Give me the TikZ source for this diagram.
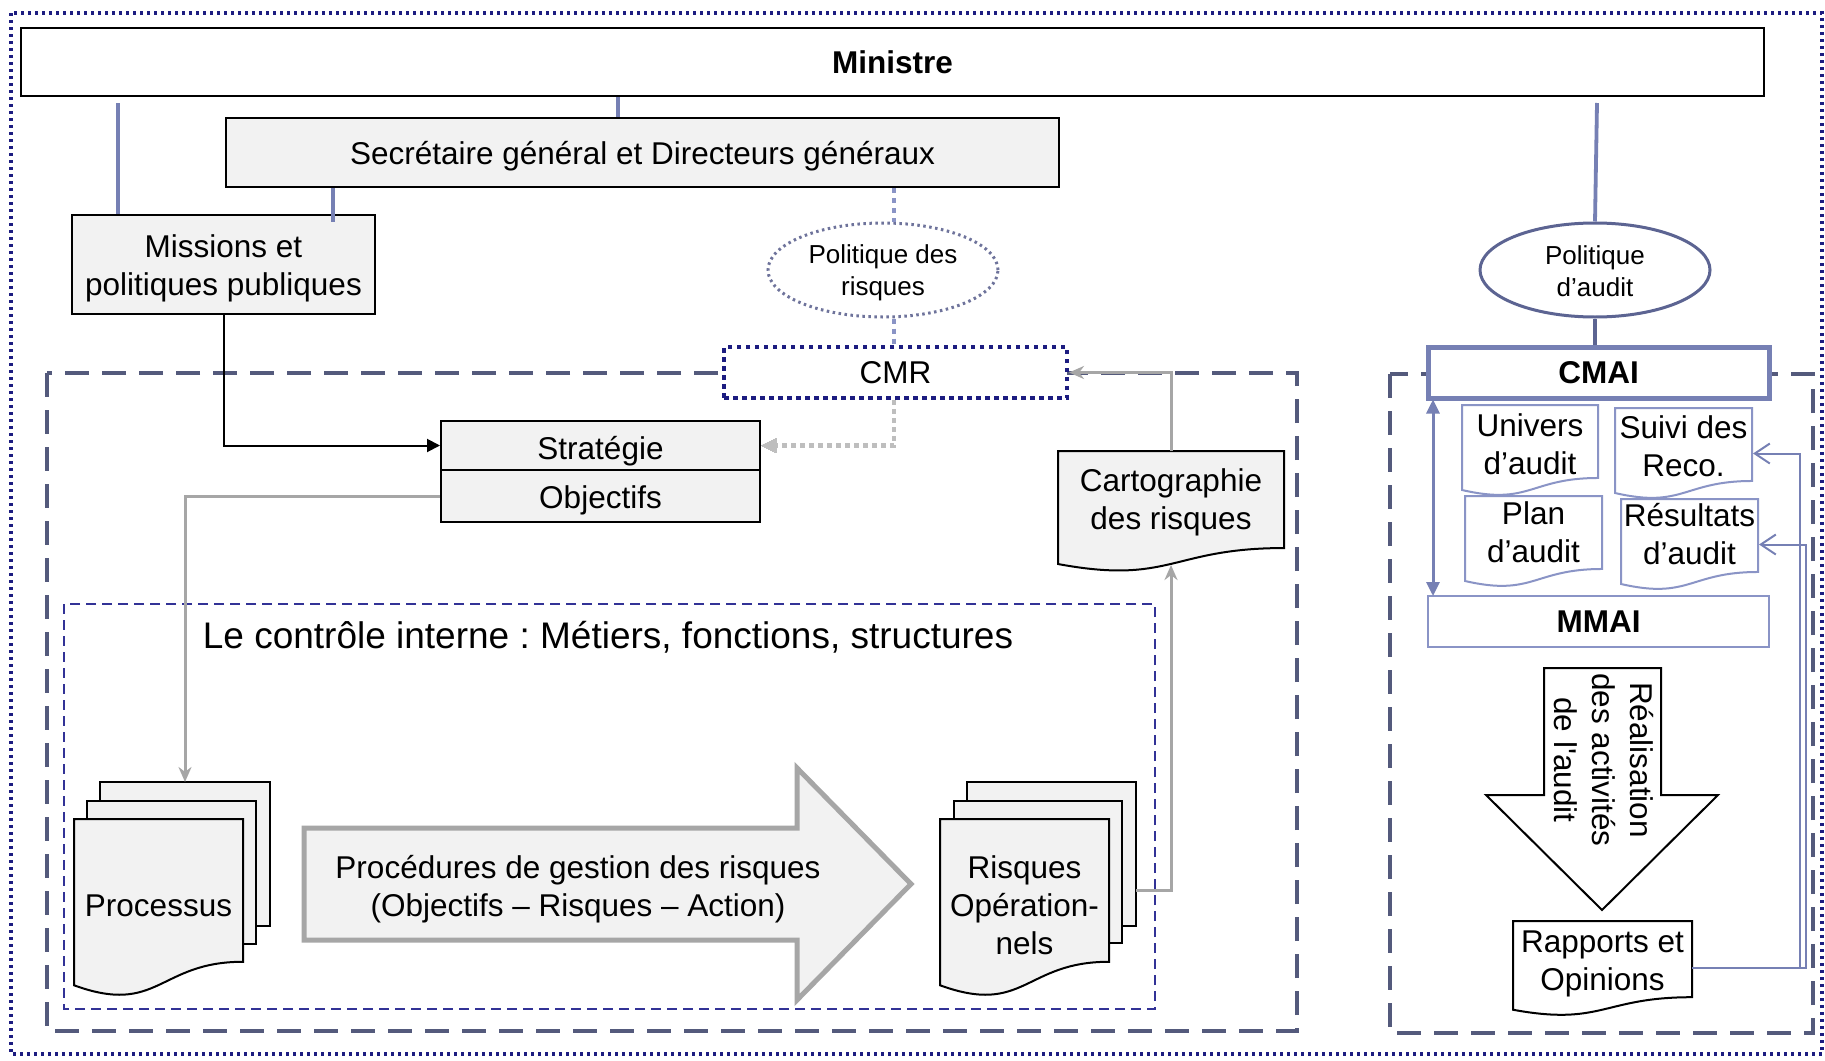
\documentclass[tikz,border=0pt]{standalone}
\usepackage{fontspec}
\setmainfont{Liberation Sans}
\usetikzlibrary{arrows.meta,shapes.geometric,calc}
\definecolor{slate}{RGB}{118,128,180}
\definecolor{dashslate}{RGB}{84,90,124}
\definecolor{navy}{RGB}{28,28,128}
\definecolor{innernavy}{RGB}{50,50,150}
\definecolor{boxgray}{RGB}{242,242,242}
\definecolor{arrgray}{RGB}{166,166,166}
\definecolor{lightdot}{RGB}{190,190,190}
\definecolor{paleslate}{RGB}{138,148,198}
\definecolor{ellslate}{RGB}{92,100,146}
\definecolor{dotslate}{RGB}{110,115,155}
\newcommand{\docshape}[5]{%
  \draw[#1] (#2,#3) -- ({#2+#4},#3) -- ({#2+#4},{#3+0.802*#5})
    .. controls ({#2+0.5*#4},{#3+0.802*#5}) and ({#2+0.5*#4},{#3+1.1075*#5}) .. (#2,{#3+0.934*#5}) -- cycle;}
\frenchspacing
\begin{document}
\begin{tikzpicture}[x=1pt,y=-1pt,
  txt/.style={font=\fontsize{31.5}{38}\selectfont, align=center, inner sep=0pt},
  btxt/.style={font=\fontsize{31.5}{38}\selectfont\bfseries, align=center, inner sep=0pt},
  stxt/.style={font=\fontsize{26}{31.5}\selectfont, align=center, inner sep=0pt},
  boxg/.style={draw=black, line width=2pt, fill=boxgray, inner sep=0pt},
  frame/.style={inner sep=0pt, outer sep=0pt, draw=none, anchor=north west},
  pagestyle/.style={draw=black, line width=2pt, fill=boxgray, line join=miter},
  slatedoc/.style={draw=paleslate, line width=2pt, fill=white},
  mline/.style={draw=slate, line width=3.8pt},
  bigdash/.style={draw=dashslate, line width=4.5pt, dash pattern=on 24pt off 13pt},
  grayarr/.style={draw=arrgray, line width=3pt, -{Stealth[length=15pt,width=13pt]}},
  retline/.style={draw=slate, line width=2pt, -{Straight Barb[length=15pt,width=20pt,line width=2pt]}}
]
\useasboundingbox (0,0) rectangle (1825,1060);
\fill[white] (0,0) rectangle (1825,1060);

% frames
\draw[navy, line width=3.5pt, dash pattern=on 3pt off 4pt] (11,13) rectangle (1822,1054);
\draw[bigdash] (47,373) rectangle (1297,1031);
\draw[bigdash] (1390,374) rectangle (1813,1033);
\draw[innernavy, line width=2pt, dash pattern=on 10pt off 6pt] (64,604) rectangle (1155,1009);

% helper x positions
\coordinate (xa) at (618,0);
\coordinate (xb) at (333,0);
\coordinate (xc) at (894,0);
\coordinate (xd) at (1433,0);
\coordinate (xe) at (1800,0);
\coordinate (xf) at (1806,0);
\coordinate (m1) at (118,103);
\coordinate (m2) at (1597,103);

% top boxes
\node[draw=black, line width=2pt, fill=white, minimum width=1743pt, minimum height=68pt, btxt] (min) at (892.5,62) {Ministre};
\node[boxg, minimum width=833pt, minimum height=69pt] (sec) at (642.5,152.5) {};
\node[txt] (sectxt) at (642.5,156) {Secrétaire général et Directeurs généraux};
\node[boxg, minimum width=303pt, minimum height=99pt] (miss) at (223.5,264.5) {};
\node[txt] (misstxt) at (223.5,268) {Missions et\\politiques publiques};

% ellipses
\node[ellipse, draw=dotslate, line width=3pt, dash pattern=on 2.5pt off 3.5pt, fill=white, minimum width=230pt, minimum height=94pt, inner sep=0pt] (polr) at (883,270) {};
\node[stxt] (polrtxt) at (883,273) {Politique des\\risques};
\node[ellipse, draw=ellslate, line width=3pt, fill=white, minimum width=230pt, minimum height=94pt, inner sep=0pt] (pola) at (1595,270) {};
\node[stxt] (polatxt) at (1595,271) {Politique\\d’audit};

% ministre connectors
\draw[mline] (m1) -- (m1 |- miss.north);
\draw[mline] (xa |- min.south) -- (xa |- sec.north);
\draw[mline] (xb |- sec.south) -- ($(xb |- miss.north)+(0,8)$);
\draw[mline] (m2) -- (pola.north);

% CMR
\node[draw=navy, line width=4pt, dash pattern=on 4.5pt off 4.5pt, fill=white, minimum width=343pt, minimum height=51pt, txt] (cmr) at (895.5,372.5) {CMR};
\draw[draw=paleslate, line width=4.5pt, dash pattern=on 5pt off 5pt] (xc |- sec.south) -- (xc |- polr.north);
\draw[draw=paleslate, line width=4.5pt, dash pattern=on 5pt off 5pt] (xc |- polr.south) -- (xc |- cmr.north);

% strategie / objectifs
\node[boxg, minimum width=319pt, minimum height=49pt] (strat) at (600.5,445.5) {};
\node[txt] (strattxt) at (600.5,451) {Stratégie};
\node[boxg, minimum width=319pt, minimum height=52pt] (obj) at (600.5,496) {};
\node[txt] (objtxt) at (600.5,500) {Objectifs};
\draw[line width=2pt, -{Triangle[length=13pt,width=13pt]}] (miss.south) |- (strat.west);
\draw[draw=lightdot, line width=4.5pt, dash pattern=on 5pt off 4pt] (xc |- cmr.south) |- ($(strat.east)+(14,0)$);
\draw[draw=lightdot, fill=lightdot, line width=0pt] (strat.east) -- ++(15,-7) -- ++(0,14) -- cycle;

% cartographie
\docshape{pagestyle}{1058}{451}{226}{121}
\node[frame, minimum width=226pt, minimum height=121pt] (cart) at (1058,451) {};
\node[txt] (carttxt) at (1171,502) {Cartographie\\des risques};
\draw[grayarr] (cart.north) |- (cmr.east);
\coordinate (cartin) at (1171,565);

% internal control title
\node[font=\fontsize{37}{43}\selectfont, inner sep=0pt] (ci) at (608,637) {Le contrôle interne : Métiers, fonctions, structures};

% Processus stack
\draw[pagestyle] (100,782) rectangle (270,926);
\draw[pagestyle] (87,801) rectangle (256,944);
\docshape{pagestyle}{74}{819}{169}{178}
\node[frame, minimum width=170pt, minimum height=144pt] (procback) at (100,782) {};
\node[txt] (proc) at (158.5,906) {Processus};
\draw[grayarr] (obj.west) -| (procback.north);

% Procedures arrow
\draw[draw=arrgray, line width=5pt, fill=boxgray, line join=miter] (304,828) -- (797,828) -- (797,768) -- (911,884) -- (797,1000) -- (797,940) -- (304,940) -- cycle;
\node[txt] (procd) at (578,889) {Procédures de gestion des risques\\(Objectifs – Risques – Action)};

% Risques stack
\draw[pagestyle] (967,782) rectangle (1136,926);
\draw[pagestyle] (954,801) rectangle (1122,943);
\docshape{pagestyle}{940}{819}{169}{178}
\node[frame, minimum width=169pt, minimum height=144pt] (riskback) at (967,782) {};
\node[txt] (risk) at (1024.5,905) {Risques\\Opération-\\nels};
\coordinate (riskout) at (1136,890);
\draw[grayarr] (riskout) -| (cartin);

% right column
\node[draw=slate, line width=5pt, fill=white, minimum width=341pt, minimum height=51pt, btxt] (cmai) at (1598.5,372.5) {CMAI};
\draw[draw=ellslate, line width=3.5pt] (pola.south) -- (pola.south |- cmai.north);
\node[draw=paleslate, line width=2pt, fill=white, minimum width=341pt, minimum height=51pt, btxt] (mmai) at (1598.5,621.5) {MMAI};
\draw[draw=slate, line width=3pt, {Triangle[length=14pt,width=13pt]}-{Triangle[length=14pt,width=13pt]}] ($(xd |- cmai.south)+(0,-1)$) -- ($(xd |- mmai.north)+(0,1)$);

\docshape{slatedoc}{1462}{405}{136}{91}
\node[frame, minimum width=136pt, minimum height=91pt] (univ) at (1462,405) {};
\node[txt] (univtxt) at (1530,444) {Univers\\d’audit};
\docshape{slatedoc}{1615}{408}{137}{91}
\node[frame, minimum width=137pt, minimum height=91pt] (suivi) at (1615,408) {};
\node[txt] (suivitxt) at (1683.5,446) {Suivi des\\Reco.};
\docshape{slatedoc}{1465}{496}{137}{91}
\node[frame, minimum width=137pt, minimum height=91pt] (plan) at (1465,496) {};
\node[txt] (plantxt) at (1533.5,532) {Plan\\d’audit};
\docshape{slatedoc}{1621}{499}{137}{91}
\node[frame, minimum width=137pt, minimum height=91pt] (resu) at (1621,499) {};
\node[txt] (resutxt) at (1689.5,534) {Résultats\\d’audit};

% down arrow
\draw[line width=2pt, fill=white, line join=miter] (1544,668) -- (1661,668) -- (1661,795) -- (1718,795) -- (1602,910) -- (1486,795) -- (1544,795) -- cycle;
\node[txt, rotate=-90] (real) at (1604,760) {Réalisation\\des activités\\de l\textquotesingle audit};

% Rapports
\docshape{draw=black, line width=2pt, fill=white}{1513}{921}{179}{95}
\node[frame, minimum width=179pt, minimum height=95pt] (rap) at (1513,921) {};
\node[txt] (raptxt) at (1602.5,964) {Rapports et\\Opinions};
\coordinate (rapout) at (1692,968);
\draw[retline] (rapout) -- (xe |- rapout) |- ($(suivi.east)+(1,0)$);
\draw[retline] (rapout) -- (xf |- rapout) |- ($(resu.east)+(1,0)$);
\end{tikzpicture}
\end{document}
